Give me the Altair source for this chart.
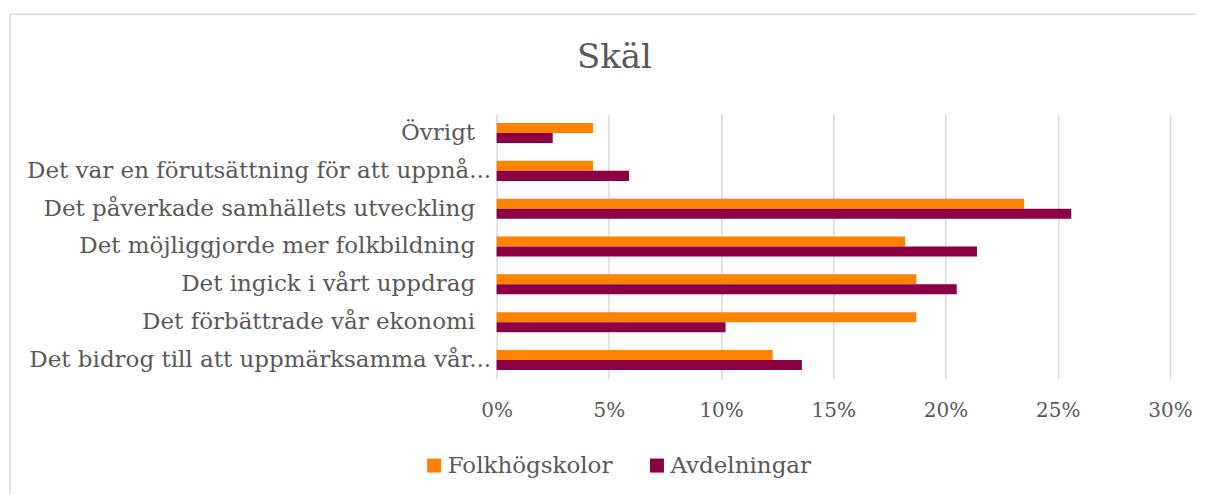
import altair as alt
import pandas as pd

categories = [
    "Övrigt",
    "Det var en förutsättning för att uppnå...",
    "Det påverkade samhällets utveckling",
    "Det möjliggjorde mer folkbildning",
    "Det ingick i vårt uppdrag",
    "Det förbättrade vår ekonomi",
    "Det bidrog till att uppmärksamma vår...",
]
series = ["Folkhögskolor", "Avdelningar"]
folkhogskolor = [4.3, 4.3, 23.5, 18.2, 18.7, 18.7, 12.3]
avdelningar = [2.5, 5.9, 25.6, 21.4, 20.5, 10.2, 13.6]
colors = ["#FF8200", "#8C0046"]
tick_values = [0, 0.05, 0.10, 0.15, 0.20, 0.25, 0.30]

rows = []
for c, f, a in zip(categories, folkhogskolor, avdelningar):
    rows.append({"skal": c, "serie": series[0], "andel": f / 100})
    rows.append({"skal": c, "serie": series[1], "andel": a / 100})
df = pd.DataFrame(rows)

FONT = "DejaVu Serif"
GREY = "#595959"
EDGE = "#d9d9d9"

one = alt.Data(values=[{}])
top_edge = alt.Chart(one).mark_rule(color=EDGE, strokeWidth=1.5).encode(
    x=alt.value(-487), x2=alt.value(700), y=alt.value(-100)
)
left_edge = alt.Chart(one).mark_rule(color=EDGE, strokeWidth=1.5).encode(
    x=alt.value(-487), y=alt.value(-100), y2=alt.value(380)
)

bars = alt.Chart(df).mark_bar().encode(
    y=alt.Y(
        "skal:N",
        sort=categories,
        scale=alt.Scale(paddingInner=0.47, paddingOuter=0.235),
        axis=alt.Axis(
            title=None,
            ticks=False,
            domain=False,
            grid=False,
            labelFont=FONT,
            labelFontSize=23,
            labelColor=GREY,
            labelPadding={
                "condition": {"test": "indexof(datum.label, '...') >= 0", "value": 6},
                "value": 22,
            },
            labelLimit=0,
            minExtent=487,
            maxExtent=487,
        ),
    ),
    yOffset=alt.YOffset("serie:N", sort=series, scale=alt.Scale(paddingInner=0, paddingOuter=0)),
    x=alt.X(
        "andel:Q",
        scale=alt.Scale(domain=[0, 0.30], nice=False),
        axis=alt.Axis(
            title=None,
            values=tick_values,
            format=".0%",
            ticks=False,
            domain=False,
            grid=True,
            gridColor=EDGE,
            gridWidth=1.5,
            labelFont=FONT,
            labelFontSize=20,
            labelColor=GREY,
            labelPadding=22,
            labelBaseline="top",
            labelFlush=False,
        ),
    ),
    color=alt.Color(
        "serie:N",
        sort=series,
        scale=alt.Scale(domain=series, range=colors),
        legend=alt.Legend(
            title=None,
            orient="none",
            direction="horizontal",
            legendX=-74,
            legendY=340,
            symbolType="square",
            symbolSize=196,
            symbolStrokeWidth=0,
            labelFont=FONT,
            labelFontSize=23,
            labelColor=GREY,
            labelOffset=2,
            labelLimit=0,
            columnPadding=32,
        ),
    ),
)

chart = alt.layer(top_edge, left_edge, bars).properties(
    width=674,
    height=265,
    padding={"left": 1, "top": 5, "right": 0, "bottom": 0},
    title=alt.TitleParams(
        "Skäl",
        font=FONT,
        fontSize=34,
        fontWeight="normal",
        color=GREY,
        anchor="middle",
        frame="group",
        dx=-219,
        baseline="alphabetic",
        offset=-89,
    ),
).configure_view(stroke=None)

chart.save("out.html", embed_options={"renderer": "svg", "actions": False})
